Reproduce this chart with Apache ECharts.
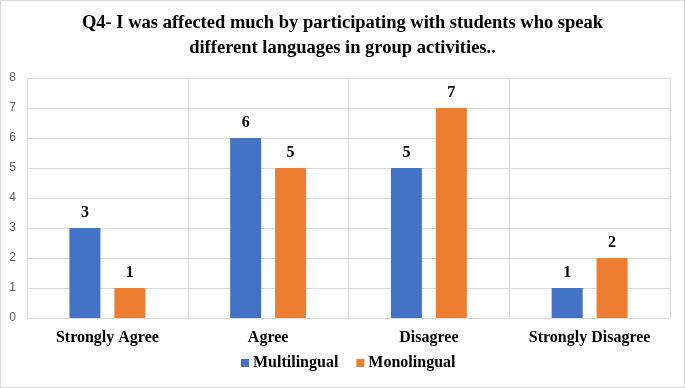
<!DOCTYPE html>
<html>
<head>
<meta charset="utf-8">
<script src="https://cdn.jsdelivr.net/npm/echarts@6/dist/echarts.min.js"></script>
<style>
html,body{margin:0;padding:0;background:#fff;}
#c{width:685px;height:388px;box-sizing:border-box;border:1px solid #d9d9d9;}
</style>
</head>
<body>
<div id="c"></div>
<script>
const categories = ['Strongly Agree', 'Agree', 'Disagree', 'Strongly Disagree'];
const multilingual = [3, 6, 5, 1];
const monolingual = [1, 5, 7, 2];
const yTicks = [0, 1, 2, 3, 4, 5, 6, 7, 8];

const chart = echarts.init(document.getElementById('c'));
const serif = '"Liberation Serif", "Times New Roman", serif';
const labelStyle = {show: true, position: 'top', distance: 7, fontFamily: serif, fontWeight: 'bold', fontSize: 16, color: '#000'};
chart.setOption({
  animation: false,
  title: {
    text: 'Q4- I was affected much by participating with students who speak\ndifferent languages in group activities..',
    left: 'center', top: 5,
    textStyle: {fontFamily: serif, fontWeight: 'bold', fontSize: 18.5, lineHeight: 25, color: '#000'}
  },
  legend: {
    bottom: 11, left: 235, itemWidth: 8, itemHeight: 8, itemGap: 18,
    icon: 'rect',
    textStyle: {fontFamily: serif, fontWeight: 'bold', fontSize: 16, color: '#000', padding: [0,0,0,-1]},
    data: ['Multilingual', 'Monolingual']
  },
  grid: {left: 26, right: 14, top: 77, bottom: 69, containLabel: false},
  xAxis: {
    type: 'category', data: categories,
    axisLine: {show: true, lineStyle: {color: '#d9d9d9'}},
    axisTick: {show: false},
    splitLine: {show: true, lineStyle: {color: '#d9d9d9'}},
    axisLabel: {fontFamily: serif, fontWeight: 'bold', fontSize: 16, color: '#000', margin: 12, interval: 0}
  },
  yAxis: {
    type: 'value', min: yTicks[0], max: yTicks[yTicks.length - 1], interval: 1,
    axisLine: {show: true, lineStyle: {color: '#d9d9d9'}},
    axisTick: {show: false},
    splitLine: {lineStyle: {color: '#d9d9d9'}},
    axisLabel: {fontFamily: '"Liberation Sans", Arial, sans-serif', fontSize: 12, color: '#595959', margin: 11}
  },
  series: [
    {name: 'Multilingual', type: 'bar', data: multilingual, barWidth: 31, barGap: '45%',
     itemStyle: {color: '#4472C4'}, label: labelStyle},
    {name: 'Monolingual', type: 'bar', data: monolingual, barWidth: 31,
     itemStyle: {color: '#ED7D31'}, label: labelStyle}
  ]
});
</script>
</body>
</html>
